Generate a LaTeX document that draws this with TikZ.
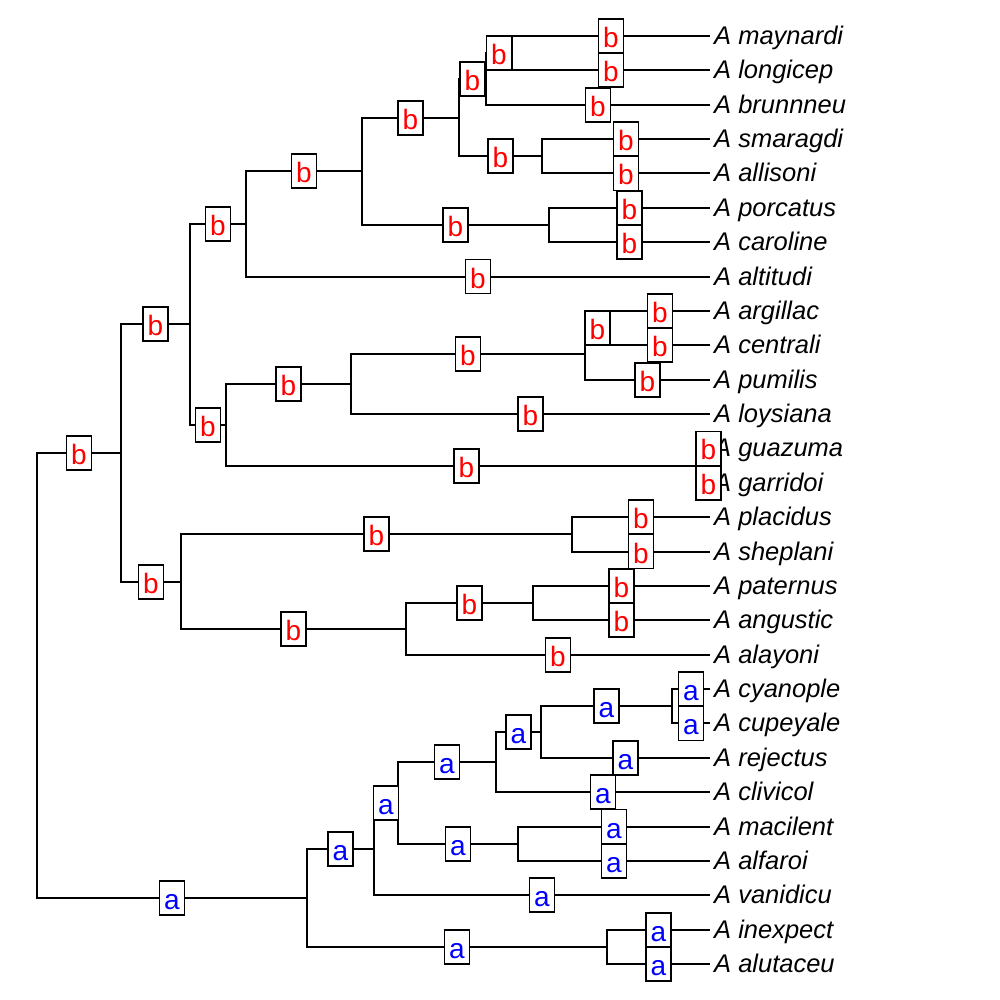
\documentclass[tikz,border=0pt]{standalone}
\usepackage{fontspec}
\setmainfont{Liberation Sans}
\begin{document}
\begin{tikzpicture}[x=1pt,y=-1pt,
  edge/.style={line width=2pt},
  box/.style={draw=black,line width=1.8pt,fill=white,minimum width=25pt,minimum height=34pt,
    inner sep=0pt,text height=23pt,text depth=0pt,font=\fontsize{28}{28}\selectfont},
  boxb/.style={box,text=red},
  boxa/.style={box,text=blue},
  tip/.style={anchor=west,inner sep=0pt,xshift=4pt,text height=17pt,text depth=0pt,
    font=\fontsize{25.5}{25.5}\selectfont\itshape}]
\useasboundingbox (0,0) rectangle (1000,1000);
% tips
\foreach \i/\y/\n in {1/36.00/maynardi,2/70.37/longicep,3/104.74/brunnneu,4/139.11/smaragdi,
  5/173.48/allisoni,6/207.85/porcatus,7/242.22/caroline,8/276.59/altitudi,9/310.96/argillac,
  10/345.33/centrali,11/379.70/pumilis,12/414.07/loysiana,13/448.44/guazuma,14/482.81/garridoi,
  15/517.19/placidus,16/551.56/sheplani,17/585.93/paternus,18/620.30/angustic,19/654.67/alayoni,
  20/689.04/cyanople,21/723.41/cupeyale,22/757.78/rejectus,23/792.15/clivicol,24/826.52/macilent,
  25/860.89/alfaroi,26/895.26/vanidicu,27/929.63/inexpect,28/964.00/alutaceu}{
  \coordinate (t\i) at (710,\y);
  \node[tip] (l\i) at (t\i) {A \n};
}
% internal nodes
\coordinate (r) at (37,675.48);
\coordinate (nA) at (121,453.01);
\coordinate (nB) at (307,897.94);
\coordinate (n1to14) at (190,324.38);
\coordinate (n15to19) at (181,581.63);
\coordinate (n1to8) at (246,223.96);
\coordinate (n9to14) at (226,424.81);
\coordinate (n1to7) at (362,171.33);
\coordinate (n1to5) at (459,117.63);
\coordinate (n123) at (486,78.96);
\coordinate (n12) at (512,53.19);
\coordinate (n45) at (542,156.30);
\coordinate (n67) at (549,225.04);
\coordinate (n9to12) at (351,384.00);
\coordinate (n9to11) at (585,353.92);
\coordinate (n910) at (610,328.15);
\coordinate (n1314) at (707,465.63);
\coordinate (n1516) at (572,534.37);
\coordinate (n17to19) at (406,628.89);
\coordinate (n1718) at (533,603.11);
\coordinate (n20to26) at (374,849.07);
\coordinate (n2728) at (607,946.81);
\coordinate (n20to25) at (398,802.89);
\coordinate (n20to23) at (496,762.07);
\coordinate (n2425) at (518,843.70);
\coordinate (n20to22) at (541,732.00);
\coordinate (n2021) at (672,706.22);
% edges
\def\edgelist{r/nA/b, r/nB/a, nA/n1to14/b, nA/n15to19/b, n1to14/n1to8/b, n1to14/n9to14/b,
  n1to8/n1to7/b, n1to8/t8/b, n1to7/n1to5/b, n1to7/n67/b, n1to5/n123/b, n1to5/n45/b,
  n123/n12/b, n123/t3/b, n12/t1/b, n12/t2/b, n45/t4/b, n45/t5/b, n67/t6/b, n67/t7/b,
  n9to14/n9to12/b, n9to14/n1314/b, n9to12/n9to11/b, n9to12/t12/b, n9to11/n910/b, n9to11/t11/b,
  n910/t9/b, n910/t10/b, n1314/t13/b, n1314/t14/b, n15to19/n1516/b, n15to19/n17to19/b,
  n1516/t15/b, n1516/t16/b, n17to19/n1718/b, n17to19/t19/b, n1718/t17/b, n1718/t18/b,
  nB/n20to26/a, nB/n2728/a, n20to26/n20to25/a, n20to26/t26/a, n20to25/n20to23/a, n20to25/n2425/a,
  n20to23/n20to22/a, n20to23/t23/a, n20to22/n2021/a, n20to22/t22/a, n2021/t20/a, n2021/t21/a,
  n2425/t24/a, n2425/t25/a, n2728/t27/a, n2728/t28/a}
\foreach \p/\c/\l in \edgelist {
  \draw[edge] (\p) |- (\c) coordinate[pos=0.75] (m-\c);
}
\foreach \p/\c/\l in \edgelist {
  \node[box\l] (e-\c) at (m-\c) {\l};
}
\end{tikzpicture}
\end{document}
